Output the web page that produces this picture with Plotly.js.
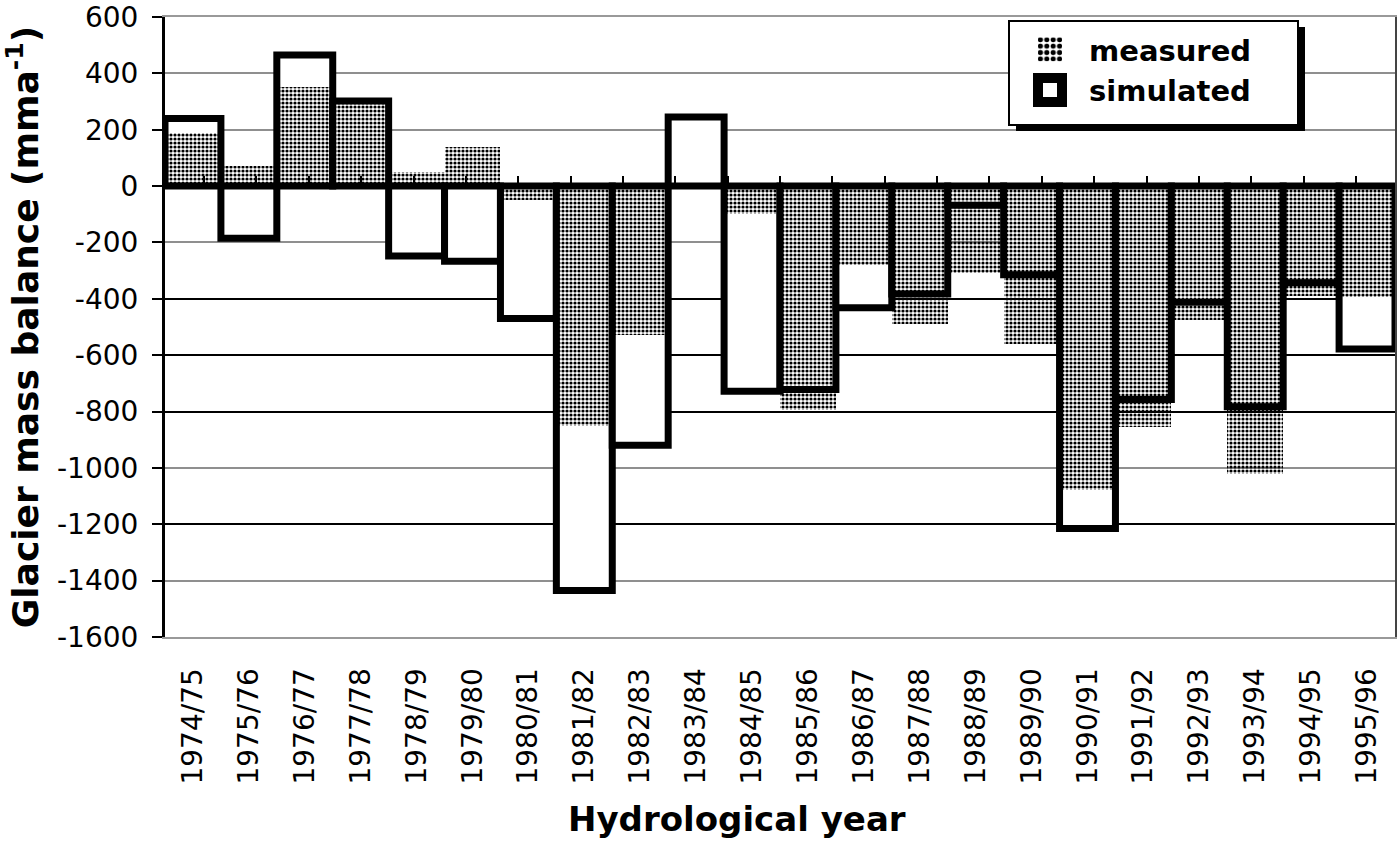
<!DOCTYPE html>
<html><head><meta charset="utf-8">
<script src="https://cdn.plot.ly/plotly-3.0.1.min.js"></script>
<style>html,body{margin:0;padding:0;background:#fff}#chart{width:1400px;height:845px}</style>
</head><body><div id="chart"></div>
<script>
const years = ['1974/75','1975/76','1976/77','1977/78','1978/79','1979/80','1980/81','1981/82','1982/83','1983/84','1984/85','1985/86','1986/87','1987/88','1988/89','1989/90','1990/91','1991/92','1992/93','1993/94','1994/95','1995/96'];
const measured  = [190, 70, 350, 290, 50, 140, -50, -850, -530, -10, -100, -795, -280, -490, -310, -560, -1080, -855, -475, -1020, -390, -395];
const simulated = [240, -185, 465, 302, -248, -267, -470, -1435, -920, 245, -728, -722, -432, -383, -68, -315, -1215, -757, -412, -783, -343, -578];
const yTickVals = [600, 400, 200, 0, -200, -400, -600, -800, -1000, -1200, -1400, -1600];
const yTickText = ['600', '400', '200', '0', '-200', '-400', '-600', '-800', '-1000', '-1200', '-1400', '-1600'];
const darkGridValues = [-400, -600, -800, -1200];
const yMin = -1600, yMax = 600;

const FONT = 'DejaVu Sans, Liberation Sans, Arial, sans-serif';

const data = [
  {type:'bar', name:'simulated', x:years, y:simulated, xaxis:'x', yaxis:'y',
   marker:{color:'#ffffff', line:{color:'#000', width:7}}, legendrank:2, hoverinfo:'skip'},
  {type:'bar', name:'measured', x:years, y:measured, xaxis:'x', yaxis:'y',
   marker:{color:'#000', line:{width:0}, pattern:{shape:'.', size:4, solidity:0.5, fgcolor:'#000', fillmode:'replace'}},
   legendrank:1, hoverinfo:'skip'},
  {type:'scatter', mode:'markers', x:years, y:simulated, xaxis:'x2', yaxis:'y2',
   marker:{opacity:0}, showlegend:false, hoverinfo:'skip'}
];

const M = {l:165, r:5, t:17, b:208};
const PW = 1400 - M.l - M.r, PH = 845 - M.t - M.b;
// legend box and drop shadow (pixel -> paper coordinates)
const px2x = px => (px - M.l) / PW;
const px2y = py => (845 - M.b - py) / PH;

const layout = {
  width:1400, height:845,
  margin:M,
  paper_bgcolor:'#fff', plot_bgcolor:'#fff',
  font:{family:FONT, color:'#000'},
  barmode:'overlay', bargap:0,
  showlegend:true,
  legend:{x:px2x(1009), y:px2y(22), xanchor:'left', yanchor:'top',
          bgcolor:'rgba(0,0,0,0)', bordercolor:'rgba(0,0,0,0)', borderwidth:2,
          font:{family:FONT, size:29, weight:'bold', color:'#000'},
          traceorder:'normal', itemwidth:68},
  shapes:[
    {type:'rect', xref:'paper', yref:'paper', x0:px2x(1016), x1:px2x(1305), y0:px2y(131), y1:px2y(27),
     fillcolor:'#000', line:{width:0}, layer:'above'},
    {type:'rect', xref:'paper', yref:'paper', x0:px2x(1009), x1:px2x(1298), y0:px2y(125), y1:px2y(21),
     fillcolor:'#fff', line:{color:'#000', width:2}, layer:'above'}
  ],
  xaxis:{type:'category', categoryarray:years, showgrid:false, zeroline:false,
         showline:true, mirror:true, linecolor:'#999', linewidth:2,
         ticks:'', tickangle:-90, ticklabelstandoff:18,
         tickfont:{family:FONT, size:28, color:'#000'}},
  xaxis2:{type:'category', categoryarray:years, overlaying:'x', anchor:'free',
          position:(0 - yMin)/(yMax - yMin), side:'bottom',
          showgrid:false, zeroline:false, showline:false, showticklabels:false,
          ticks:'inside', tickson:'boundaries', ticklen:10, tickwidth:2, tickcolor:'#000'},
  yaxis:{range:[yMin, yMax], tickmode:'array', tickvals:yTickVals, ticktext:yTickText,
         ticklabeloverflow:'allow', ticklabelstandoff:8,
         showgrid:true, gridcolor:'#8f8f8f', gridwidth:2,
         zeroline:true, zerolinecolor:'#000', zerolinewidth:3,
         showline:true, linecolor:'#000', linewidth:3,
         ticks:'outside', ticklen:10, tickwidth:2, tickcolor:'#000',
         tickfont:{family:FONT, size:28, color:'#000'},
         title:{text:'Glacier mass balance (mma<sup>-1</sup>)', standoff:10,
                font:{family:FONT, size:36, weight:'bold', color:'#000'}}},
  yaxis2:{range:[yMin, yMax], overlaying:'y', side:'right', anchor:'x',
          tickmode:'array', tickvals:darkGridValues, showticklabels:false, ticks:'',
          showgrid:true, gridcolor:'#000', gridwidth:2, zeroline:false,
          showline:true, linecolor:'#444', linewidth:2},
  annotations:[{text:'Hydrological year', xref:'paper', yref:'paper', x:px2x(737), y:px2y(819),
                xanchor:'center', yanchor:'middle', showarrow:false,
                font:{family:FONT, size:34, weight:'bold', color:'#000'}}]
};

const gd = document.getElementById('chart');
Plotly.newPlot(gd, data, layout, {staticPlot:true, displayModeBar:false}).then(() => {
  gd.querySelectorAll('.legend .legendpoints path').forEach(p => {
    p.setAttribute('transform', ((p.getAttribute('transform') || '') + ' scale(2)').trim());
  });
});
</script>
</body></html>
